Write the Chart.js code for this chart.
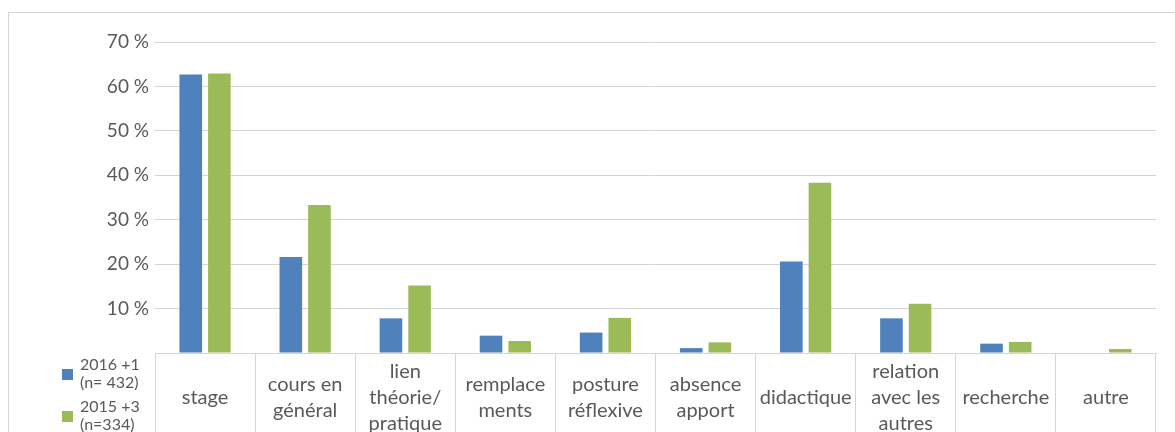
<!DOCTYPE html>
<html lang="fr">
<head>
<meta charset="utf-8">
<title>Apports de la formation</title>
<script src="https://cdn.jsdelivr.net/npm/chart.js@4/dist/chart.umd.min.js"></script>
<style>
  html, body { margin: 0; padding: 0; background: #ffffff; }
  #wrap { width: 1175px; height: 432px; overflow: hidden; }
  canvas { display: block; }
</style>
</head>
<body>
<div id="wrap"><canvas id="chart" width="1175" height="432"></canvas></div>
<script>
// Categories (multi-line labels as they appear under each column)
const categories = [
  ["stage"],
  ["cours en", "général"],
  ["lien", "théorie/", "pratique"],
  ["remplace", "ments"],
  ["posture", "réflexive"],
  ["absence", "apport"],
  ["didactique"],
  ["relation", "avec les", "autres"],
  ["recherche"],
  ["autre"]
];

// Series names (two lines each) and values in percent
const seriesNames = [
  ["2016 +1", "(n= 432)"],
  ["2015 +3", "(n=334)"]
];
const values2016 = [62.7, 21.6, 7.8, 3.9, 4.6, 1.1, 20.6, 7.8, 2.1, 0];
const values2015 = [62.9, 33.3, 15.2, 2.7, 7.9, 2.4, 38.3, 11.1, 2.5, 0.9];

// Value axis ticks
const yTicks = [0, 10, 20, 30, 40, 50, 60, 70];

const FONT = "Lato, 'Open Sans', sans-serif";
const TEXT = "#595959";
const GRID = "#d4d4d4";

// Light frame around the whole chart
const framePlugin = {
  id: "frame",
  beforeDraw(chart) {
    const ctx = chart.ctx;
    ctx.save();
    ctx.strokeStyle = GRID;
    ctx.lineWidth = 1;
    ctx.strokeRect(8.5, 12.5, chart.width + 20, chart.height + 20);
    ctx.restore();
  }
};

// Legend keys placed in the first column of the data table
const tableLegend = {
  id: "tableLegend",
  afterDraw(chart) {
    const ctx = chart.ctx;
    const top = chart.chartArea.bottom;
    const lineH = 18;
    ctx.save();
    ctx.font = "16px " + FONT;
    ctx.textBaseline = "middle";
    ctx.textAlign = "left";
    chart.data.datasets.forEach((ds, i) => {
      const cy = top + 21 + i * 42;
      ctx.fillStyle = ds.backgroundColor;
      ctx.fillRect(62, cy - 5, 11, 11);
      ctx.fillStyle = TEXT;
      ds.legendLines.forEach((line, j) => {
        ctx.fillText(line, 80, cy - lineH / 2 + j * lineH);
      });
    });
    ctx.restore();
  }
};

new Chart(document.getElementById("chart"), {
  type: "bar",
  data: {
    labels: categories,
    datasets: [
      {
        label: seriesNames[0].join(" "),
        legendLines: seriesNames[0],
        data: values2016,
        backgroundColor: "#4F81BD",
        borderWidth: 0,
        categoryPercentage: 0.572,
        barPercentage: 0.79
      },
      {
        label: seriesNames[1].join(" "),
        legendLines: seriesNames[1],
        data: values2015,
        backgroundColor: "#9BBB59",
        borderWidth: 0,
        categoryPercentage: 0.572,
        barPercentage: 0.79
      }
    ]
  },
  options: {
    responsive: false,
    devicePixelRatio: 1,
    animation: false,
    layout: { padding: { top: 42, right: 19, left: 0, bottom: 0 } },
    plugins: {
      legend: { display: false },
      tooltip: { enabled: false }
    },
    scales: {
      x: {
        offset: true,
        grid: {
          offset: true,
          drawOnChartArea: false,
          drawTicks: true,
          tickLength: 90,
          color: GRID,
          lineWidth: 1
        },
        border: { display: true, color: GRID, width: 1 },
        ticks: {
          autoSkip: false,
          maxRotation: 0,
          minRotation: 0,
          crossAlign: "center",
          padding: -71,
          color: TEXT,
          font: { family: FONT, size: 20, lineHeight: 1.3 }
        },
        afterFit(scale) { scale.height = 79; }
      },
      y: {
        min: yTicks[0],
        max: yTicks[yTicks.length - 1],
        afterBuildTicks(scale) { scale.ticks = yTicks.map(v => ({ value: v })); },
        grid: { color: GRID, lineWidth: 1, drawTicks: false },
        border: { display: false },
        ticks: {
          padding: 6,
          color: TEXT,
          font: { family: FONT, size: 19 },
          callback: v => (v === 0 ? "" : v + " %")
        },
        afterFit(scale) { scale.width = 155; }
      }
    }
  },
  plugins: [framePlugin, tableLegend]
});
</script>
</body>
</html>
